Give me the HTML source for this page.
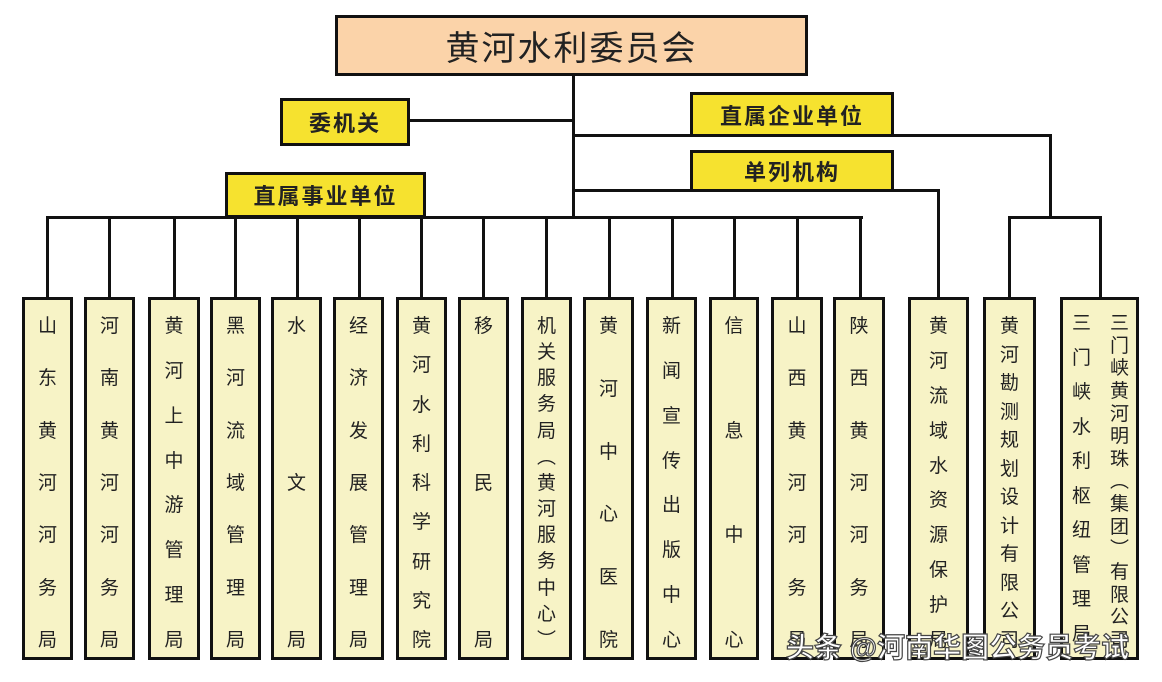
<!DOCTYPE html>
<html><head><meta charset="utf-8"><style>
body{margin:0;width:1162px;height:682px;background:#fff;position:relative;overflow:hidden;font-family:"Liberation Sans","Noto Sans CJK SC",sans-serif;}
.b{position:absolute;box-sizing:border-box;border:3px solid #111;}
.l{position:absolute;background:#111;}
.top{background:#fbd3a9;font-size:34px;color:#222;display:flex;align-items:center;justify-content:center;letter-spacing:2px;}
.y{background:#f6e22f;font-size:22px;font-weight:bold;color:#222;display:flex;align-items:center;justify-content:center;letter-spacing:2px;}
.v{background:#f7f3c6;top:297px;height:363px;}
.col{position:absolute;top:17px;bottom:6px;left:0;right:0;display:flex;flex-direction:column;justify-content:space-between;align-items:center;font-size:19px;line-height:20px;color:#222;}
.col span{display:block;height:20px;}
.wm{position:absolute;left:786px;top:626px;font-size:28px;color:#fff;font-weight:bold;-webkit-text-stroke:1.2px #444;letter-spacing:0px;}
</style></head><body>
<div class="b top" style="left:335px;top:15px;width:473px;height:61px;">黄河水利委员会</div>
<div class="l" style="left:572px;top:75px;width:3px;height:143px;"></div>
<div class="b y" style="left:280px;top:98px;width:130px;height:48px;">委机关</div>
<div class="l" style="left:410px;top:119px;width:163px;height:3px;"></div>
<div class="b y" style="left:690px;top:92px;width:204px;height:45px;">直属企业单位</div>
<div class="l" style="left:572px;top:134px;width:480px;height:3px;"></div>
<div class="l" style="left:1049px;top:134px;width:3px;height:85px;"></div>
<div class="b y" style="left:690px;top:150px;width:204px;height:42px;">单列机构</div>
<div class="l" style="left:572px;top:189px;width:368px;height:3px;"></div>
<div class="l" style="left:937px;top:189px;width:3px;height:109px;"></div>
<div class="b y" style="left:225px;top:172px;width:201px;height:46px;">直属事业单位</div>
<div class="l" style="left:46px;top:216px;width:817px;height:3px;"></div>
<div class="l" style="left:1008px;top:216px;width:94px;height:3px;"></div>

<div class="l" style="left:46px;top:216px;width:3px;height:82px"></div>
<div class="l" style="left:108px;top:216px;width:3px;height:82px"></div>
<div class="l" style="left:173px;top:216px;width:3px;height:82px"></div>
<div class="l" style="left:234px;top:216px;width:3px;height:82px"></div>
<div class="l" style="left:296px;top:216px;width:3px;height:82px"></div>
<div class="l" style="left:358px;top:216px;width:3px;height:82px"></div>
<div class="l" style="left:420px;top:216px;width:3px;height:82px"></div>
<div class="l" style="left:482px;top:216px;width:3px;height:82px"></div>
<div class="l" style="left:545px;top:216px;width:3px;height:82px"></div>
<div class="l" style="left:608px;top:216px;width:3px;height:82px"></div>
<div class="l" style="left:671px;top:216px;width:3px;height:82px"></div>
<div class="l" style="left:733px;top:216px;width:3px;height:82px"></div>
<div class="l" style="left:796px;top:216px;width:3px;height:82px"></div>
<div class="l" style="left:859px;top:216px;width:3px;height:82px"></div>
<div class="l" style="left:1008px;top:216px;width:3px;height:82px"></div>
<div class="l" style="left:1099px;top:216px;width:3px;height:82px"></div>

<div class="b v" style="left:22px;width:51px"><div class="col"><span>山</span><span>东</span><span>黄</span><span>河</span><span>河</span><span>务</span><span>局</span></div></div>
<div class="b v" style="left:84px;width:51px"><div class="col"><span>河</span><span>南</span><span>黄</span><span>河</span><span>河</span><span>务</span><span>局</span></div></div>
<div class="b v" style="left:148px;width:52px"><div class="col"><span>黄</span><span>河</span><span>上</span><span>中</span><span>游</span><span>管</span><span>理</span><span>局</span></div></div>
<div class="b v" style="left:210px;width:51px"><div class="col"><span>黑</span><span>河</span><span>流</span><span>域</span><span>管</span><span>理</span><span>局</span></div></div>
<div class="b v" style="left:271px;width:51px"><div class="col"><span>水</span><span>文</span><span>局</span></div></div>
<div class="b v" style="left:333px;width:51px"><div class="col"><span>经</span><span>济</span><span>发</span><span>展</span><span>管</span><span>理</span><span>局</span></div></div>
<div class="b v" style="left:396px;width:51px"><div class="col"><span>黄</span><span>河</span><span>水</span><span>利</span><span>科</span><span>学</span><span>研</span><span>究</span><span>院</span></div></div>
<div class="b v" style="left:458px;width:51px"><div class="col"><span>移</span><span>民</span><span>局</span></div></div>
<div class="b v" style="left:521px;width:51px"><div class="col"><span>机</span><span>关</span><span>服</span><span>务</span><span>局</span><span>︵</span><span>黄</span><span>河</span><span>服</span><span>务</span><span>中</span><span>心</span><span>︶</span></div></div>
<div class="b v" style="left:583px;width:51px"><div class="col"><span>黄</span><span>河</span><span>中</span><span>心</span><span>医</span><span>院</span></div></div>
<div class="b v" style="left:646px;width:51px"><div class="col"><span>新</span><span>闻</span><span>宣</span><span>传</span><span>出</span><span>版</span><span>中</span><span>心</span></div></div>
<div class="b v" style="left:709px;width:50px"><div class="col"><span>信</span><span>息</span><span>中</span><span>心</span></div></div>
<div class="b v" style="left:771px;width:52px"><div class="col"><span>山</span><span>西</span><span>黄</span><span>河</span><span>河</span><span>务</span><span>局</span></div></div>
<div class="b v" style="left:833px;width:52px"><div class="col"><span>陕</span><span>西</span><span>黄</span><span>河</span><span>河</span><span>务</span><span>局</span></div></div>
<div class="b v" style="left:908px;width:61px"><div class="col"><span>黄</span><span>河</span><span>流</span><span>域</span><span>水</span><span>资</span><span>源</span><span>保</span><span>护</span><span>局</span></div></div>
<div class="b v" style="left:983px;width:53px"><div class="col"><span>黄</span><span>河</span><span>勘</span><span>测</span><span>规</span><span>划</span><span>设</span><span>计</span><span>有</span><span>限</span><span>公</span><span>司</span></div></div>
<div class="b v" style="left:1060px;width:79px">
<div class="col" style="left:40px;right:0;top:14px;"><span>三</span><span>门</span><span>峡</span><span>黄</span><span>河</span><span>明</span><span>珠</span><span>︵</span><span>集</span><span>团</span><span>︶</span><span>有</span><span>限</span><span>公</span><span>司</span></div>
<div class="col" style="left:0;right:36px;top:14px;bottom:12px;"><span>三</span><span>门</span><span>峡</span><span>水</span><span>利</span><span>枢</span><span>纽</span><span>管</span><span>理</span><span>局</span></div>
</div>
<div class="wm">头条 @河南华图公务员考试</div>
</body></html>
